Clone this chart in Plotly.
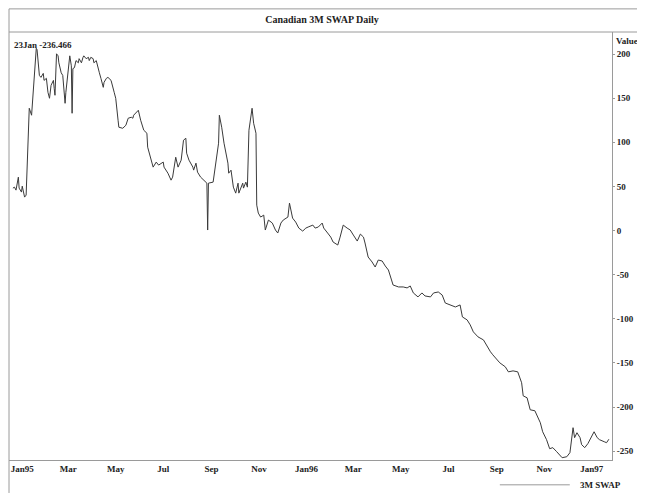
import plotly.graph_objects as go

# ---- data ----
dates = [
    "1994-12-20", "1994-12-22", "1994-12-24", "1994-12-27", "1994-12-28", "1994-12-31",
    "1995-01-01", "1995-01-04", "1995-01-06", "1995-01-09", "1995-01-10", "1995-01-13",
    "1995-01-19", "1995-01-20", "1995-01-23", "1995-01-25", "1995-01-28", "1995-01-29",
    "1995-02-01", "1995-02-03", "1995-02-05", "1995-02-07", "1995-02-10", "1995-02-11",
    "1995-02-12", "1995-02-14", "1995-02-16", "1995-02-17", "1995-02-20", "1995-02-22",
    "1995-02-24", "1995-02-25", "1995-02-26", "1995-03-01", "1995-03-02", "1995-03-03",
    "1995-03-05", "1995-03-06", "1995-03-07", "1995-03-09", "1995-03-11", "1995-03-14",
    "1995-03-15", "1995-03-18", "1995-03-20", "1995-03-21", "1995-03-24", "1995-03-27",
    "1995-03-28", "1995-03-30", "1995-04-02", "1995-04-03", "1995-04-06", "1995-04-08",
    "1995-04-10", "1995-04-12", "1995-04-15", "1995-04-16", "1995-04-19", "1995-04-21",
    "1995-04-25", "1995-04-29", "1995-05-01", "1995-05-04", "1995-05-05", "1995-05-10",
    "1995-05-14", "1995-05-17", "1995-05-21", "1995-05-23", "1995-05-24", "1995-05-30",
    "1995-06-02", "1995-06-06", "1995-06-10", "1995-06-11", "1995-06-15", "1995-06-18",
    "1995-06-22", "1995-06-25", "1995-07-01", "1995-07-02", "1995-07-07", "1995-07-11",
    "1995-07-13", "1995-07-17", "1995-07-20", "1995-07-24", "1995-07-27", "1995-07-30",
    "1995-07-31", "1995-08-03", "1995-08-08", "1995-08-09", "1995-08-12", "1995-08-14",
    "1995-08-18", "1995-08-22", "1995-08-26", "1995-08-27", "1995-08-28", "1995-09-03",
    "1995-09-06", "1995-09-10", "1995-09-11", "1995-09-14", "1995-09-17", "1995-09-22",
    "1995-09-23", "1995-09-26", "1995-09-29", "1995-10-02", "1995-10-05", "1995-10-06",
    "1995-10-11", "1995-10-12", "1995-10-15", "1995-10-17", "1995-10-19", "1995-10-23",
    "1995-10-25", "1995-10-28", "1995-10-29", "1995-10-31", "1995-11-03", "1995-11-07",
    "1995-11-09", "1995-11-13", "1995-11-18", "1995-11-22", "1995-11-25", "1995-11-29",
    "1995-12-02", "1995-12-08", "1995-12-10", "1995-12-14", "1995-12-18", "1995-12-22",
    "1995-12-27", "1995-12-31", "1996-01-03", "1996-01-09", "1996-01-12", "1996-01-16",
    "1996-01-21", "1996-01-23", "1996-01-28", "1996-02-01", "1996-02-04", "1996-02-10",
    "1996-02-13", "1996-02-17", "1996-02-22", "1996-02-26", "1996-03-01", "1996-03-06",
    "1996-03-10", "1996-03-14", "1996-03-16", "1996-03-20", "1996-03-25", "1996-03-29",
    "1996-04-02", "1996-04-07", "1996-04-11", "1996-04-15", "1996-04-19", "1996-04-21",
    "1996-04-28", "1996-05-04", "1996-05-09", "1996-05-13", "1996-05-17", "1996-05-23",
    "1996-05-28", "1996-06-01", "1996-06-08", "1996-06-12", "1996-06-18", "1996-06-23",
    "1996-06-27", "1996-07-03", "1996-07-10", "1996-07-16", "1996-07-19", "1996-07-25",
    "1996-07-29", "1996-08-02", "1996-08-08", "1996-08-15", "1996-08-20", "1996-08-24",
    "1996-08-27", "1996-09-02", "1996-09-05", "1996-09-12", "1996-09-16", "1996-09-22",
    "1996-09-28", "1996-10-03", "1996-10-05", "1996-10-10", "1996-10-14", "1996-10-20",
    "1996-10-23", "1996-10-27", "1996-10-30", "1996-11-04", "1996-11-08", "1996-11-12",
    "1996-11-17", "1996-11-21", "1996-11-24", "1996-11-30", "1996-12-04", "1996-12-08",
    "1996-12-10", "1996-12-13", "1996-12-17", "1996-12-19", "1996-12-23", "1996-12-27",
    "1997-01-01", "1997-01-04", "1997-01-08", "1997-01-11", "1997-01-17", "1997-01-20",
    "1997-01-23",
]
values = [
    48.1, 49.2, 45.8, 60.5, 48.1, 43.6,
    50.3, 37.9, 40.2, 134.0, 138.6, 130.7,
    206.5, 205.0, 175.8, 173.6, 178.1, 170.2,
    172.5, 156.7, 149.9, 164.6, 170.2, 161.2,
    153.3, 200.3, 198.0, 190.1, 178.8, 175.8,
    149.9, 144.2, 156.7, 183.5, 194.8, 198.0,
    186.7, 132.9, 183.5, 184.6, 192.6, 190.1,
    194.8, 190.1, 196.3, 198.0, 194.8, 196.3,
    192.6, 196.3, 194.8, 190.1, 192.6, 184.6,
    178.8, 172.5, 162.3, 168.0, 172.5, 173.6,
    170.2, 156.7, 149.9, 125.0, 117.1, 115.9,
    119.3, 127.3, 128.4, 127.3, 130.7, 136.3,
    125.0, 113.7, 110.3, 94.5, 79.8, 71.9,
    77.6, 74.2, 77.6, 71.9, 65.0, 57.1,
    60.5, 83.1, 71.9, 79.8, 102.4, 104.6,
    87.7, 79.8, 71.9, 68.5, 76.4, 66.2,
    60.5, 57.1, 53.7, 0.6, 53.7, 54.9,
    76.4, 99.0, 130.7, 117.1, 99.0, 76.4,
    65.0, 68.4, 49.2, 42.4, 53.7, 42.4,
    53.7, 48.1, 54.9, 49.2, 113.7, 138.6,
    121.6, 110.3, 28.8, 19.8, 15.3, 17.5,
    0.6, 11.9, 8.5, 0.6, -2.8, 8.5,
    11.9, 15.3, 31.1, 14.1, 9.6, 2.8,
    -0.6, 2.8, 4.0, 6.2, 2.8, 4.0,
    8.5, 2.8, -2.8, -7.4, -13.0, -16.4,
    -7.4, 6.2, 2.8, 0.6, -5.1, -11.9,
    -4.0, -7.4, -14.1, -30.0, -35.6, -41.3,
    -33.4, -34.5, -40.2, -44.7, -56.0, -61.7,
    -63.9, -63.9, -65.0, -62.8, -70.7, -75.2,
    -70.7, -74.1, -75.2, -70.7, -69.6, -73.0,
    -82.1, -84.3, -86.6, -84.3, -97.9, -101.2,
    -106.9, -114.8, -120.5, -123.9, -131.8, -137.4,
    -140.8, -146.5, -149.9, -154.4, -160.1, -159.0,
    -160.1, -172.5, -187.3, -189.5, -203.1, -204.2,
    -211.0, -217.8, -228.0, -237.0, -247.2, -246.0,
    -250.6, -254.0, -257.4, -256.3, -251.7, -223.4,
    -234.7, -229.1, -234.7, -242.6, -246.0, -241.5,
    -233.6, -228.0, -234.7, -237.0, -239.3, -240.4,
    -236.466,
]
x_tick_dates = ["1995-01-01", "1995-03-01", "1995-05-01", "1995-07-01", "1995-09-01",
                "1995-11-01", "1996-01-01", "1996-03-01", "1996-05-01", "1996-07-01",
                "1996-09-01", "1996-11-01", "1997-01-01"]
x_tick_labels = ["Jan95", "Mar", "May", "Jul", "Sep", "Nov", "Jan96",
                 "Mar", "May", "Jul", "Sep", "Nov", "Jan97"]
y_tick_vals = [200, 150, 100, 50, 0, -50, -100, -150, -200, -250]
y_tick_labels = ["200", "150", "100", "50", "0", "-50", "-100", "-150", "-200", "-250"]
series_name = "3M SWAP"
title_text = "Canadian 3M SWAP Daily"
last_label = "23Jan -236.466"

FONT = "Liberation Serif"
TXT = "#222222"
FRAME = "#9a9a9a"
LINE = "#3a3a3a"

fig = go.Figure()
fig.add_trace(go.Scatter(
    x=dates, y=values, mode="lines", name=series_name,
    line=dict(color=LINE, width=1), showlegend=False,
))

fig.update_layout(
    width=637, height=485,
    margin=dict(l=1, r=33, t=24, b=33, autoexpand=False),
    paper_bgcolor="white", plot_bgcolor="white",
    font=dict(family=FONT, size=9, color=TXT),
    title=dict(text=title_text, x=314 / 637, xref="container", xanchor="center",
               y=1 - 11 / 485, yref="container", yanchor="middle",
               font=dict(family=FONT, size=10, color=TXT, weight="bold")),
    showlegend=False,
    xaxis=dict(
        type="date", range=["1994-12-15", "1997-01-27"],
        tickvals=x_tick_dates, ticktext=x_tick_labels,
        showgrid=False, zeroline=False, ticks="",
        showline=True, linecolor=FRAME, linewidth=1,
        tickfont=dict(family=FONT, size=9, color=TXT, weight="bold"),
    ),
    yaxis=dict(
        side="right", range=[-260, 225],
        tickvals=y_tick_vals, ticktext=y_tick_labels,
        showgrid=False, zeroline=False, ticks="outside", ticklen=2, tickcolor=FRAME,
        showline=True, linecolor=FRAME, linewidth=1,
        tickfont=dict(family=FONT, size=9, color=TXT, weight="bold"),
    ),
    shapes=[
        dict(type="line", xref="paper", yref="paper", x0=0, x1=1.05, y0=1.054, y1=1.054,
             line=dict(color=FRAME, width=1)),
        dict(type="line", xref="paper", yref="paper", x0=0, x1=1.05, y0=1, y1=1,
             line=dict(color=FRAME, width=1)),
        dict(type="line", xref="paper", yref="paper", x0=0, x1=0, y0=-0.077, y1=1.054,
             line=dict(color=FRAME, width=1)),
        # legend key line
        dict(type="line", xref="paper", yref="paper", x0=0.814, x1=0.93, y0=-0.058, y1=-0.058,
             line=dict(color=FRAME, width=1)),
    ],
    annotations=[
        dict(text=last_label, xref="paper", yref="paper", x=0.005, y=0.985,
             xanchor="left", yanchor="top", showarrow=False,
             font=dict(family=FONT, size=9, color=TXT, weight="bold")),
        dict(text="Value", xref="paper", yref="paper", x=1.003, y=0.995,
             xanchor="left", yanchor="top", showarrow=False,
             font=dict(family=FONT, size=9, color=TXT, weight="bold")),
        # legend label
        dict(text=series_name, xref="paper", yref="paper", x=0.944, y=-0.058,
             xanchor="left", yanchor="middle", showarrow=False,
             font=dict(family=FONT, size=9, color=TXT, weight="bold")),
    ],
)

fig.write_html("out.html")
